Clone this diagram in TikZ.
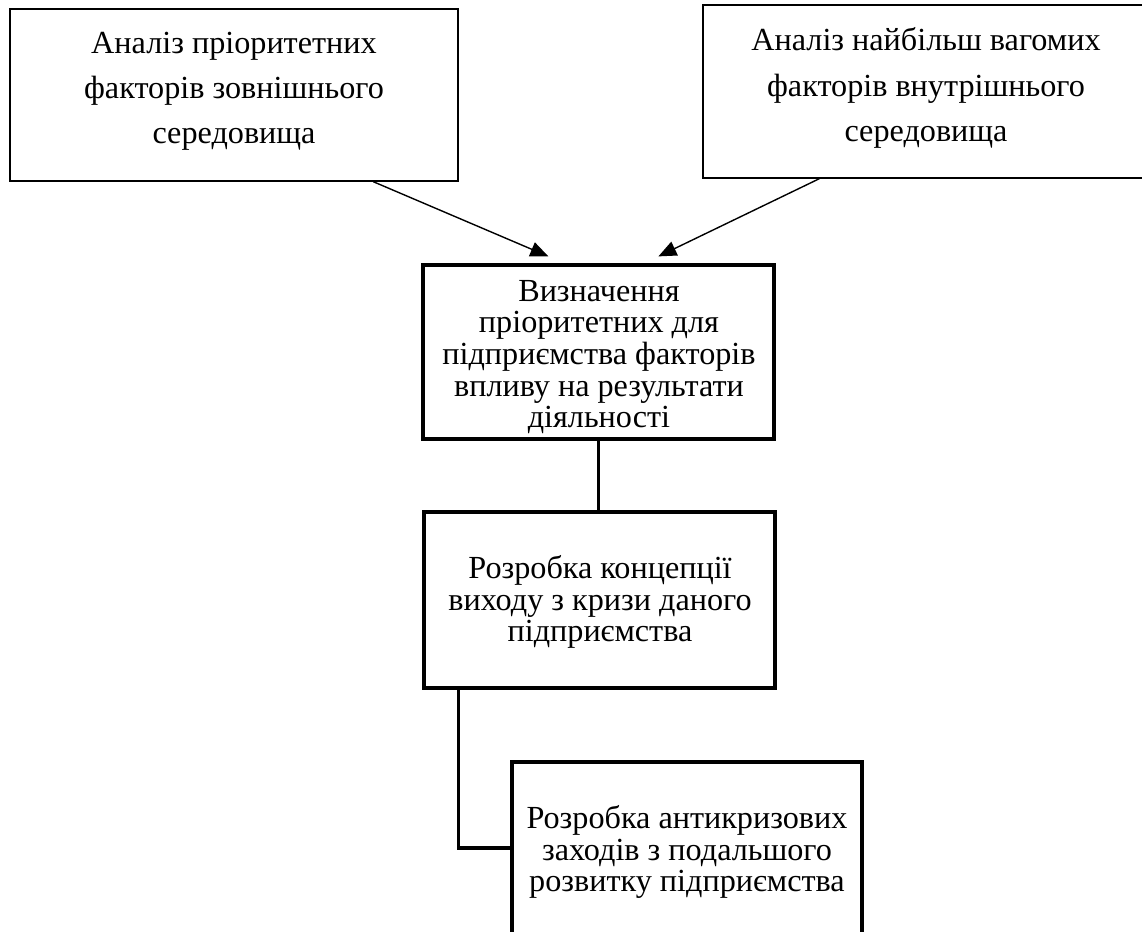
\documentclass[tikz,border=0pt]{standalone}
\usepackage{fontspec}
\setmainfont{Liberation Serif}
\usetikzlibrary{arrows.meta,calc}

\tikzset{
  thinbox/.style={draw, line width=0.7pt, inner sep=0pt},
  thickbox/.style={draw, line width=1.6pt, inner sep=0pt},
  loose/.style={align=center, inner sep=0pt, font=\fontsize{16.1}{22.6}\selectfont},
  tight/.style={align=center, inner sep=0pt, font=\fontsize{16.1}{15.8}\selectfont},
  arrowline/.style={line width=0.7pt, -{Triangle[length=9pt,width=7.5pt]}},
  link/.style={line width=1.6pt},
}

\begin{document}
\begin{tikzpicture}[x=0.5pt, y=-0.5pt]
  \useasboundingbox[fill=white] (0,0) rectangle (1142,932);
  \clip (0,0) rectangle (1142,932);

  % input analyses
  \node[thinbox, minimum width=224pt, minimum height=86pt] (ext) at (234,95) {};
  \node[loose] (extT) at (234,91) {Аналіз пріоритетних\\факторів зовнішнього\\середовища};

  \node[thinbox, minimum width=223.5pt, minimum height=86.5pt] (int) at (926.5,91.5) {};
  \node[loose] (intT) at (926,88) {Аналіз найбільш вагомих\\факторів внутрішнього\\середовища};

  % priority factors
  \node[thickbox, minimum width=175.5pt, minimum height=87pt] (mid) at (598.5,352) {};
  \node[tight] (midT) at (599,357) {Визначення\\пріоритетних для\\підприємства факторів\\впливу на результати\\діяльності};

  % crisis concept
  \node[thickbox, minimum width=175.5pt, minimum height=88pt] (conc) at (599.5,600) {};
  \node[tight] (concT) at (600,602) {Розробка концепції\\виходу з кризи даного\\підприємства};

  % anti-crisis measures
  \node[thickbox, minimum width=175pt, minimum height=86pt] (anti) at (687,848) {};
  \node[tight] (antiT) at (687,852) {Розробка антикризових\\заходів з подальшого\\розвитку підприємства};

  % arrow ends just above the middle box
  \coordinate (tipL) at ($(mid.north west)+(127,-7)$);
  \coordinate (tipR) at ($(mid.north west)+(237,-7)$);

  \draw[arrowline] ($(ext.south west)!0.81!(ext.south east)$) -- (tipL);
  \draw[arrowline] ($(int.south west)+(117,0)$) -- (tipR);

  \draw[link] ($(mid.south west)+(177,0)$) -- ($(conc.north west)+(176,0)$);
  \draw[link] ($(conc.south west)+(36,0)$) |- (anti.west);
\end{tikzpicture}
\end{document}
